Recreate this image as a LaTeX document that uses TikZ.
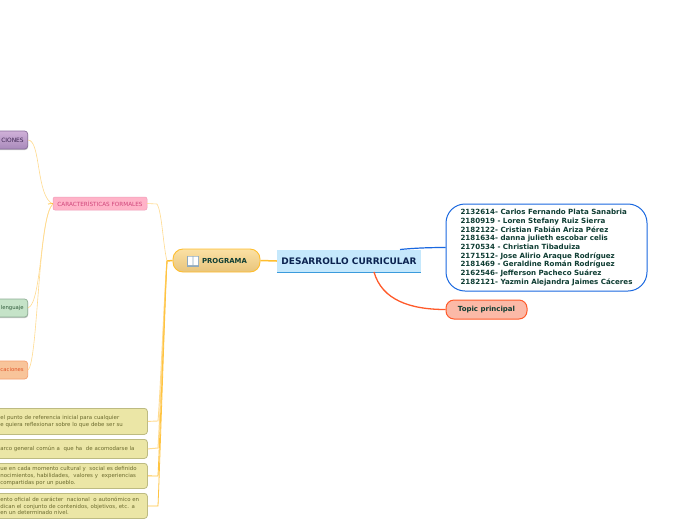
\documentclass[tikz,border=0pt]{standalone}
\usepackage{fontspec}
\setmainfont{DejaVu Sans}
\usetikzlibrary{shadows}
\definecolor{trunk}{HTML}{FFBE2E}
\definecolor{thinl}{HTML}{FFDB8F}
\definecolor{darkgreen}{HTML}{0F3D33}
\definecolor{notetext}{HTML}{6B6A2E}
\definecolor{noteyellow}{HTML}{EBE6A6}
\definecolor{notedge}{HTML}{BDBB82}
\definecolor{purpA}{HTML}{CFB0D8}
\definecolor{purpB}{HTML}{A98ABB}
\definecolor{purpE}{HTML}{8A6E9C}
\definecolor{purpT}{HTML}{3C2450}
\definecolor{greenF}{HTML}{C5E3C8}
\definecolor{greenE}{HTML}{8FAF95}
\definecolor{greenT}{HTML}{2F5A3A}
\definecolor{orgF}{HTML}{F8C49A}
\definecolor{orgE}{HTML}{F4A070}
\definecolor{orgT}{HTML}{E0562A}
\definecolor{pinkF}{HTML}{FFB3C8}
\definecolor{pinkE}{HTML}{F09DB8}
\definecolor{pinkT}{HTML}{D0457A}
\definecolor{progA}{HTML}{FBE1A4}
\definecolor{progB}{HTML}{E8C47C}
\definecolor{centerF}{HTML}{C5E8FC}
\definecolor{centerE}{HTML}{3B9BDC}
\definecolor{navy}{HTML}{0B2350}
\definecolor{blueE}{HTML}{1A68E0}
\definecolor{topicF}{HTML}{FBB9A7}
\definecolor{topicE}{HTML}{FF5A2A}
\definecolor{bookC}{HTML}{8FA9BC}
\tikzset{
  x=1pt,y=-1pt,
  sidebox/.style={rounded corners=3pt,line width=.7pt,font=\fontsize{5.3}{6}\selectfont,inner sep=0pt,anchor=east,minimum height=18pt,text width=34pt,align=right},
  note/.style={draw=notedge,fill=noteyellow,rounded corners=3pt,line width=.8pt,font=\fontsize{5.42}{6.7}\selectfont,text=notetext,anchor=north west,inner xsep=6pt,inner ysep=0pt,align=left,text width=141pt,minimum height=#1},
  lnk/.style={draw=thinl,line width=.6pt},
  softshadow/.style={drop shadow={shadow xshift=0.5pt,shadow yshift=-1pt,fill=black!50,opacity=.45}},
}
\begin{document}
\begin{tikzpicture}
\useasboundingbox (0,0) rectangle (696,520);
\clip (0,0) rectangle (696,520);
\fill[white] (0,0) rectangle (696,520);
% free connector points
\coordinate (hub) at (167,261);
\coordinate (c1) at (158,421);
\coordinate (c2) at (158,448);
\coordinate (c3) at (158,476);
\coordinate (c4) at (158,506);
\coordinate (capt) at (157,204);
\coordinate (left) at (48,204);
\coordinate (cblue) at (400,249.5);
\coordinate (cred) at (374,272);
% side nodes
\node[sidebox,draw=purpE,top color=purpA,bottom color=purpB,softshadow,text=purpT] (fn) at (28,140) {\fontsize{5.9}{6}\selectfont CIONES\hspace*{4pt}};
\node[sidebox,draw=greenE,fill=greenF,softshadow,text=greenT] (len) at (28,308) {lenguaje\hspace*{4pt}};
\node[sidebox,draw=orgE,fill=orgF,text=orgT] (apl) at (28,370) {caciones\hspace*{4pt}};
\node[draw=pinkE,fill=pinkF,rounded corners=2pt,line width=.5pt,text=pinkT,font=\fontsize{5.7}{6}\selectfont,minimum width=94pt,minimum height=13pt,inner sep=0pt] (car) at (100,203.5) {CARACTERÍSTICAS FORMALES};
% notes
\node[note=26pt] (n1) at (-6,408) {el punto de referencia inicial para cualquier\\e quiera reflexionar sobre lo que debe ser su};
\node[note=19pt] (n2) at (-6,439) {arco general común a\ \ que ha\ \ de acomodarse la};
\node[note=25pt] (n3) at (-6,463) {ue en cada momento cultural y\ \ social es definido\\nocimientos, habilidades,\ \ valores y\ \ experiencias\\compartidas por un pueblo.};
\node[note=25pt] (n4) at (-6,493) {ento oficial de carácter\ \ nacional\ \ o autonómico en\\dican el conjunto de contenidos, objetivos, etc. a\\en un determinado nivel.};
% main nodes
\node[draw=trunk,top color=progA,bottom color=progB,rounded corners=10pt,line width=.9pt,minimum width=87pt,minimum height=23pt,inner sep=0pt] (prog) at (216.5,260.5) {\hspace*{16pt}\textcolor{darkgreen}{\fontsize{6.9}{8}\selectfont\bfseries PROGRAMA}};
\node[fill=centerF,minimum width=144pt,minimum height=22pt,inner sep=0pt,text=navy,font=\fontsize{9}{11}\selectfont\bfseries] (central) at (349,261) {DESARROLLO CURRICULAR};
\node[draw=blueE,fill=white,rounded corners=19pt,line width=1pt,minimum width=201pt,minimum height=87pt,inner sep=0pt,text=darkgreen,font=\fontsize{7.1}{8.65}\selectfont\bfseries,align=left] (list) at (546.5,247.5) {\raisebox{0pt}{\makebox[172pt][l]{2132614- Carlos Fernando Plata Sanabria}}\\2180919 - Loren Stefany Ruiz Sierra\\2182122- Cristian Fabián Ariza Pérez\\2181634- danna julieth escobar celis\\2170534 - Christian Tibaduiza\\2171512- Jose Alirio Araque Rodríguez\\2181469 - Geraldine Román Rodríguez\\2162546- Jefferson Pacheco Suárez\\2182121- Yazmin Alejandra Jaimes Cáceres};
\node[draw=topicE,fill=topicF,rounded corners=8pt,line width=1pt,minimum width=81pt,minimum height=19pt,inner sep=0pt,text=darkgreen,font=\fontsize{7}{8}\selectfont\bfseries] (topic) at (486.5,309.5) {Topic principal};
% center underline
\draw[centerE,line width=.8pt] (central.south west) -- (central.south east);
% book icon of PROGRAMA
\fill[bookC] (187,255.5) rectangle (199,266.5);
\fill[white] (188,256.5) rectangle (192.7,265) (193.3,256.5) rectangle (198,265);
% connectors
\draw[trunk,line width=1.5pt] (prog.east) -- (central.west);
\draw[trunk,line width=1.5pt] (prog.west) -- (hub);
\draw[lnk] (fn.east) .. controls (41,140) and (36,197) .. (53,204);
\draw[lnk] (len.east) .. controls (42,303) and (40,215) .. (53,204);
\draw[lnk] (apl.east) .. controls (38,362) and (38,215) .. (53,204);
\draw[trunk,line width=.7pt] (left) -- (car.west);
\draw[lnk] (car.east) -- (capt) .. controls (162,212) and (163,245) .. (hub);
\draw[thinl,line width=.9pt] (n1.east) -- (c1) .. controls (160,400) and (165,280) .. (hub);
\draw[thinl,line width=1pt] (n2.east) -- (c2) .. controls (160,420) and (165,280) .. (hub);
\draw[trunk!80!thinl,line width=.9pt] (n3.east) -- (c3) .. controls (160,440) and (165,290) .. (hub);
\draw[trunk!80!thinl,line width=.8pt] (n4.east) -- (c4) .. controls (160,460) and (165,300) .. (hub);
\draw[blueE,line width=1.2pt] (cblue) .. controls (415,248) and (430,247.5) .. (list.west);
\draw[topicE,line width=1.3pt] (cred) .. controls (382,300) and (410,309.5) .. (topic.west);
\end{tikzpicture}
\end{document}
